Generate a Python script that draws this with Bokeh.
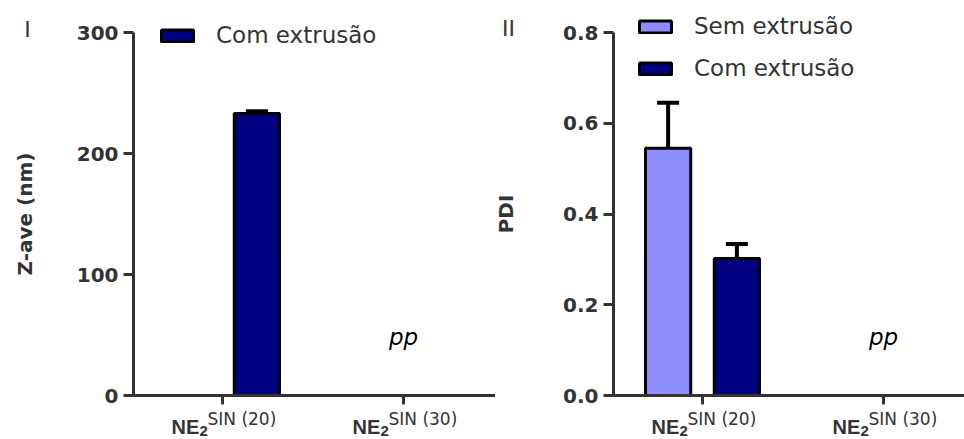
from bokeh.plotting import figure
from bokeh.models import (ColumnDataSource, Range1d, FixedTicker, Whisker, TeeHead,
                          Legend, LegendItem, Label, LabelSet, PrintfTickFormatter,
                          LinearAxis)
from bokeh.core.properties import value
from bokeh.layouts import row
from bokeh.transform import dodge
from bokeh.embed import file_html
from bokeh.resources import INLINE

# ---------------- data ----------------
categories = ["NE2 SIN (20)", "NE2 SIN (30)"]
cat_idx = [0, 1]
cat_main = ["NE", "NE"]
cat_sub = ["2", "2"]
cat_sup = ["SIN (20)", "SIN (30)"]

series = ["Sem extrusão", "Com extrusão"]
colors = ["#8C8CFF", "#000080"]

# Panel I: Z-ave (nm) - only "Com extrusão" measured for first category
zave_com = [233.0]
zave_com_err = [2.0]
# Panel II: PDI
pdi_sem = [0.545]
pdi_sem_err = [0.100]
pdi_com = [0.302]
pdi_com_err = [0.032]

zave_ticks = [0, 100, 200, 300]
pdi_ticks = [0.0, 0.2, 0.4, 0.6, 0.8]
absent_note = "pp"   # second category: no value

AX = "#333333"
FONT = "DejaVu Sans"
CAT_FONT = "Liberation Sans"
PX_PER_CAT = 181.0   # pixels between category ticks
H = 439
Y0_PX = 395          # pixel row of value 0
YTOP_PX = 32         # pixel row of axis top value
OFF = 0.19
BW = 0.25


def make_fig(width, tick0_px, axis_px, y_top, ticks, ylabel, label_standoff, fmt):
    x_start = -tick0_px / PX_PER_CAT
    x_end = x_start + width / PX_PER_CAT
    x_axis = (axis_px - tick0_px) / PX_PER_CAT
    per_px = y_top / (Y0_PX - YTOP_PX)
    y_start = -(H - Y0_PX) * per_px
    y_end = Y0_PX * per_px
    p = figure(width=width, height=H, output_backend="svg", toolbar_location=None,
               x_range=Range1d(x_start, x_end), y_range=Range1d(y_start, y_end),
               x_axis_location=None, y_axis_location=None,
               min_border_left=0, min_border_right=0,
               min_border_top=0, min_border_bottom=0)
    p.outline_line_color = None
    p.xgrid.visible = False
    p.ygrid.visible = False
    p.background_fill_color = "white"
    p.border_fill_color = "white"

    xa = LinearAxis(fixed_location=0, bounds=(x_axis, x_end),
                    ticker=FixedTicker(ticks=cat_idx))
    ya = LinearAxis(fixed_location=x_axis, bounds=(0, y_top),
                    ticker=FixedTicker(ticks=ticks))
    for ax in (xa, ya):
        ax.axis_line_color = AX
        ax.axis_line_width = 3
        ax.major_tick_line_color = AX
        ax.major_tick_line_width = 3
        ax.major_tick_in = 0
        ax.minor_tick_line_color = None

    xa.major_tick_out = 9
    xa.major_label_overrides = {i: " " for i in cat_idx}
    xa.major_label_text_font_size = "1px"

    ya.major_tick_out = 10
    ya.major_label_standoff = 5
    ya.major_label_text_font = FONT
    ya.major_label_text_font_style = "bold"
    ya.major_label_text_font_size = "20px"
    ya.major_label_text_color = AX
    ya.formatter = PrintfTickFormatter(format=fmt)
    ya.axis_label = ylabel
    ya.axis_label_text_font = FONT
    ya.axis_label_text_font_style = "bold"
    ya.axis_label_text_font_size = "20px"
    ya.axis_label_text_color = AX
    ya.axis_label_standoff = label_standoff
    p.add_layout(xa, "below")
    p.add_layout(ya, "left")

    # category labels: NE (bold) + 2 (lowered) + SIN (xx) (superscript)
    cs = ColumnDataSource(dict(x=cat_idx, main=cat_main, sub=cat_sub, sup=cat_sup))
    p.add_layout(LabelSet(x="x", y=H - 433, y_units="screen", text="main", source=cs,
                          x_offset=-51, text_align="left", text_baseline="alphabetic",
                          text_font=value(CAT_FONT), text_font_style="bold",
                          text_font_size="20px", text_color=AX))
    p.add_layout(LabelSet(x="x", y=H - 435, y_units="screen", text="sub", source=cs,
                          x_offset=-23, text_align="left", text_baseline="alphabetic",
                          text_font=value(CAT_FONT), text_font_style="bold",
                          text_font_size="15px", text_color=AX))
    p.add_layout(LabelSet(x="x", y=H - 424, y_units="screen", text="sup", source=cs,
                          x_offset=-15, text_align="left", text_baseline="alphabetic",
                          text_font=value(FONT), text_font_size="17px", text_color=AX))
    # "pp" note over second category
    p.add_layout(Label(x=cat_idx[1], y=H - 336, y_units="screen", text=absent_note,
                       text_align="center", text_baseline="alphabetic",
                       text_font=FONT, text_font_style="italic", text_font_size="23px",
                       text_color="black"))
    return p


def add_series(p, vals, errs, offset, color):
    src = ColumnDataSource(dict(x=cat_idx[:len(vals)], y=vals,
                                upper=[v + e for v, e in zip(vals, errs)]))
    w = Whisker(base=dodge("x", offset), upper="upper", lower="y", source=src,
                line_color="black", line_width=4, lower_head=None,
                upper_head=TeeHead(size=22, line_width=4, line_color="black"),
                level="glyph")
    p.add_layout(w)
    r = p.vbar(x=dodge("x", offset), top="y", bottom=0, width=BW, source=src,
               fill_color=color, line_color="black", line_width=3)
    return r


def style_legend(lg):
    lg.padding = 0
    lg.margin = 0
    lg.border_line_color = None
    lg.background_fill_alpha = 0
    lg.glyph_width = 40
    lg.glyph_height = 15
    lg.label_standoff = 19
    lg.label_text_font = FONT
    lg.label_text_font_size = "23px"
    lg.label_text_color = AX
    lg.label_height = 15


# ---------------- Panel I ----------------
p1 = make_fig(495, 222, 133, 300, zave_ticks, "Z-ave (nm)", 37, "%d")
r1 = add_series(p1, zave_com, zave_com_err, OFF, colors[1])
lg1 = Legend(items=[LegendItem(label=series[1], renderers=[r1])], location=(157, 391))
style_legend(lg1)
p1.add_layout(lg1, "center")
p1.add_layout(Label(x=27, y=H - 41, x_units="screen", y_units="screen", text="I",
                    text_align="center", text_font=FONT, text_font_size="22px",
                    text_color=AX))

# ---------------- Panel II ----------------
p2 = make_fig(469, 207, 118, 0.8, pdi_ticks, "PDI", 42, "%.1f")
r2a = add_series(p2, pdi_sem, pdi_sem_err, -OFF, colors[0])
r2b = add_series(p2, pdi_com, pdi_com_err, OFF, colors[1])
lg2 = Legend(items=[LegendItem(label=series[0], renderers=[r2a]),
                    LegendItem(label=series[1], renderers=[r2b])],
             location=(140, 358), spacing=16)
style_legend(lg2)
p2.add_layout(lg2, "center")
p2.add_layout(Label(x=13, y=H - 40, x_units="screen", y_units="screen", text="II",
                    text_align="center", text_font=FONT, text_font_size="22px",
                    text_color=AX))

layout = row(p1, p2)
open("out.html", "w").write(file_html(layout, INLINE))
